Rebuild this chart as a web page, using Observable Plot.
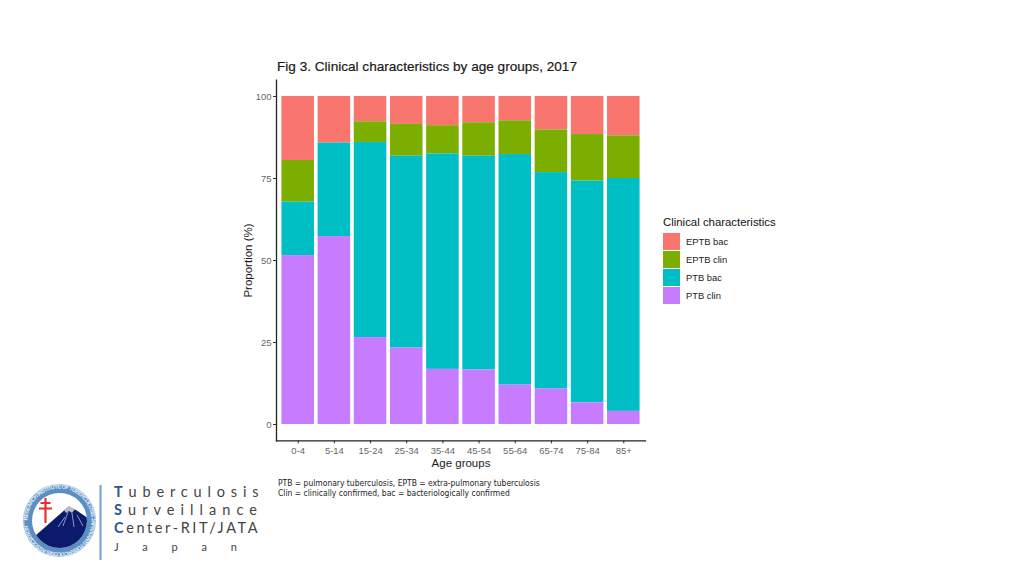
<!DOCTYPE html>
<html>
<head>
<meta charset="utf-8">
<script src="https://cdn.jsdelivr.net/npm/d3@7"></script>
<script src="https://cdn.jsdelivr.net/npm/@observablehq/plot@0.6"></script>
<style>
html,body{margin:0;padding:0;background:#fff;width:1024px;height:576px;overflow:hidden;font-family:"Liberation Sans",Arial,sans-serif}
#chart{position:absolute;left:0;top:0}
.t{position:absolute;white-space:nowrap}
#title{left:277px;top:59px;font-size:13.6px;color:#1a1a1a;-webkit-text-stroke:0.2px #1a1a1a}
#legend{left:663px;top:216px;font-size:11.4px;color:#111}
.sw{position:absolute;left:663px;width:17px;height:17px}
.lg{position:absolute;left:686px;font-size:9.4px;color:#222;white-space:nowrap}
.foot{left:278px;font-family:"DejaVu Sans Condensed","DejaVu Sans",sans-serif;font-stretch:condensed;font-size:8.45px;color:#222}
.org{left:114px;font-family:"Lato",sans-serif;font-weight:400;color:#444;font-size:14.5px}
.org b{color:#2f5597;font-weight:700}
#logo{position:absolute;left:0;top:470px}
</style>
</head>
<body>
<div id="chart"></div>
<div class="t" id="title">Fig 3. Clinical characteristics by age groups, 2017</div>
<div class="t" id="legend">Clinical characteristics</div>
<div id="lg"></div>
<div class="t foot" style="top:478px">PTB = pulmonary tuberculosis, EPTB = extra-pulmonary tuberculosis</div>
<div class="t foot" style="top:488px">Clin = clinically confirmed, bac = bacteriologically confirmed</div>
<svg id="logo" width="110" height="100" viewBox="0 470 110 100">
  <defs>
    <clipPath id="inner"><circle cx="59.5" cy="520.5" r="27.5"/></clipPath>
    <path id="ring" d="M 27.5 520.5 A 32 32 0 1 1 91.5 520.5 A 32 32 0 1 1 27.5 520.5"/>
  </defs>
  <circle cx="59.5" cy="520.5" r="36.5" fill="#9dbde0"/>
  <circle cx="59.5" cy="520.5" r="35" fill="#5b8fc4"/>
  <circle cx="59.5" cy="520.5" r="27.5" fill="#fff"/>
  <text font-family="Liberation Sans" font-size="5.6" font-weight="700" fill="#e6eef8" textLength="196"><textPath href="#ring">RESEARCH INSTITUTE OF TUBERCULOSIS JAPAN ANTI-TUBERCULOSIS ASSOCIATION</textPath></text>
  <g clip-path="url(#inner)">
    <path d="M68 507 L35 536 L40 560 L90 560 L92 521 L76 510 Z" fill="#0b1a6b"/>
    <path d="M64 510 L69 506 L75 509 L72 513 L69 511 L66 513 Z" fill="#b9bcc4"/>
    <path d="M68 512 L63 526 M72 513 L74 527 M77 515 L83 526 M65 517 L58 527" stroke="#8f97c4" stroke-width="1" fill="none"/>
  </g>
  <path d="M45.5 498 V523 M40.5 503 H50.5 M39 508.500 H52" stroke="#e0332f" stroke-width="2.200" fill="none"/>
  <rect x="99.500" y="485" width="2" height="75" fill="#6fa0d6"/>
</svg>
<div class="t org" style="top:483px;letter-spacing:5.85px"><b>T</b>uberculosis</div>
<div class="t org" style="top:501px;letter-spacing:6.05px"><b>S</b>urveillance</div>
<div class="t org" style="top:519px;letter-spacing:2.6px"><b>C</b>enter-RIT/JATA</div>
<div class="t org" style="top:540px;font-size:11px;letter-spacing:23.8px">Japan</div>
<script>
const ageGroups = ["0-4","5-14","15-24","25-34","35-44","45-54","55-64","65-74","75-84","85+"];
const seriesNames = ["EPTB bac","EPTB clin","PTB bac","PTB clin"];
const seriesColors = ["#F8766D","#7CAE00","#00BFC4","#C77CFF"];
const ptbClin  = [51.5,57.3,26.5,23.3,16.8,16.6,12.0,10.8, 6.6, 4.0];
const ptbBac   = [16.3,28.5,59.5,58.5,65.7,65.2,70.3,66.0,67.6,71.0];
const eptbClin = [12.7, 0.0, 6.3, 9.7, 8.6,10.2,10.3,13.0,14.2,13.0];
const eptbBac  = [19.5,14.2, 7.7, 8.5, 8.9, 8.0, 7.4,10.2,11.6,12.0];
const yTicks = [0,25,50,75,100];

const columns = {"EPTB bac":eptbBac,"EPTB clin":eptbClin,"PTB bac":ptbBac,"PTB clin":ptbClin};
const rows = seriesNames.flatMap(s => ageGroups.map((a,i) => ({age:a, series:s, value:columns[s][i]})));

const plot = Plot.plot({
  width:1024, height:576,
  marginLeft:276, marginRight:379, marginTop:79.6, marginBottom:135.6,
  style:{background:"transparent", fontFamily:"Liberation Sans, Arial, sans-serif"},
  x:{domain:ageGroups, paddingInner:0.1, paddingOuter:0.15, align:0.5, round:false, label:null},
  y:{domain:[-5,105], label:null},
  color:{domain:seriesNames, range:seriesColors},
  marks:[
    Plot.barY(rows,{x:"age", y:"value", fill:"series", order:seriesNames.slice().reverse(), inset:0}),
    Plot.axisY({ticks:yTicks, tickSize:3, tickPadding:2, fontSize:9.5, stroke:"#333", fill:"#666", label:null}),
    Plot.axisY({ticks:[], tickSize:0, label:"Proportion (%)", labelAnchor:"center", labelArrow:"none", labelOffset:33, fontSize:11.5, fill:"#1a1a1a"}),
    Plot.axisX({tickSize:3, tickPadding:3, fontSize:9.5, stroke:"#333", fill:"#666", label:null}),
    Plot.axisX({ticks:[], tickSize:0, label:"Age groups", labelAnchor:"center", labelArrow:"none", labelOffset:26, fontSize:11.5, fill:"#1a1a1a"}),
    Plot.frame({anchor:"left", stroke:"#222", strokeWidth:1.3}),
    Plot.frame({anchor:"bottom", stroke:"#222", strokeWidth:1.3})
  ]
});
document.getElementById("chart").append(plot);

const lg = document.getElementById("lg");
seriesNames.forEach((s,i)=>{
  const y = 233 + i*17.9;
  const sw = document.createElement("div"); sw.className="sw"; sw.style.top=y+"px"; sw.style.background=seriesColors[i]; lg.append(sw);
  const tx = document.createElement("div"); tx.className="lg"; tx.style.top=(y+3)+"px"; tx.textContent=s; lg.append(tx);
});
</script>
</body>
</html>
